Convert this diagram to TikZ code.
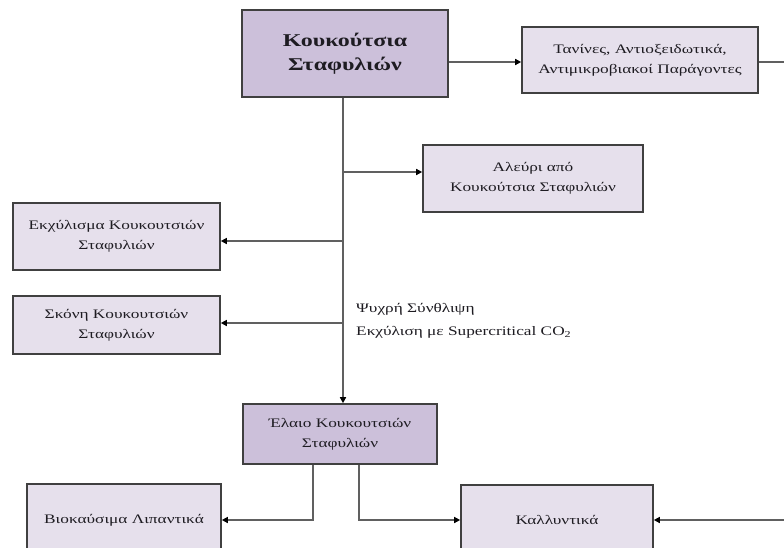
\documentclass[tikz,border=0pt]{standalone}
\usepackage{fontspec}
\setmainfont[FakeStretch=1.33]{Liberation Serif}
\usetikzlibrary{arrows.meta}
\definecolor{darkfill}{RGB}{204,192,218}
\definecolor{lightfill}{RGB}{230,224,236}
\definecolor{edgecol}{RGB}{64,64,64}
\definecolor{linecol}{RGB}{96,96,96}
\definecolor{inkcol}{RGB}{30,28,34}
\tikzset{
  box/.style={draw=edgecol, line width=1.6pt, fill=lightfill, align=center,
    inner sep=2pt, font=\fontsize{13}{20}\selectfont, text=inkcol},
  mainbox/.style={box, fill=darkfill},
  conn/.style={draw=linecol, line width=1.4pt,
    -{Triangle[length=6pt,width=6pt,color=black]}},
}
\begin{document}
\begin{tikzpicture}[x=1pt,y=-1pt]
\clip (0,0) rectangle (784,547);
\fill[white] (0,0) rectangle (784,547);

% boxes
\node[mainbox, minimum width=206pt, minimum height=87pt,
  font=\bfseries\fontsize{18}{24}\selectfont] (seeds) at (345,53.5)
  {Κουκούτσια\\Σταφυλιών};
\node[box, minimum width=236pt, minimum height=66pt] (tann) at (640,60)
  {Τανίνες, Αντιοξειδωτικά,\\Αντιμικροβιακοί Παράγοντες};
\node[box, minimum width=220pt, minimum height=67pt] (flour) at (533,178.5)
  {Αλεύρι από\\Κουκούτσια Σταφυλιών};
\node[box, minimum width=207pt, minimum height=67pt] (extr) at (116.5,236.5)
  {Εκχύλισμα Κουκουτσιών\\Σταφυλιών};
\node[box, minimum width=207pt, minimum height=58pt] (powd) at (116.5,325)
  {Σκόνη Κουκουτσιών\\Σταφυλιών};
\node[mainbox, minimum width=194pt, minimum height=60pt] (oil) at (340,434)
  {Έλαιο Κουκουτσιών\\Σταφυλιών};
\node[box, minimum width=194pt, minimum height=72pt] (bio) at (124,520)
  {Βιοκαύσιμα Λιπαντικά};
\node[box, minimum width=192pt, minimum height=70pt] (cosm) at (557,520)
  {Καλλυντικά};

% process label
\node[anchor=north west, align=left, inner sep=0pt,
  font=\fontsize{13}{23}\selectfont, text=inkcol] (proc) at (356,303)
  {Ψυχρή Σύνθλιψη\\Εκχύλιση με Supercritical CO\textsubscript{2}};

% trunk and branches
\coordinate (tx) at (343,0);
\draw[conn] (seeds.south -| tx) -- (oil.north -| tx);
\coordinate (bA) at (343,172);
\coordinate (bB) at (343,241);
\coordinate (bC) at (343,323);
\draw[conn] (seeds.east |- 0,62) -- (tann.west |- 0,62);
\draw[conn] (bA) -- (flour.west |- bA);
\draw[conn] (bB) -- (extr.east |- bB);
\draw[conn] (bC) -- (powd.east |- bC);

% oil outputs
\coordinate (oL) at (313,0);
\coordinate (oR) at (359,0);
\draw[conn] (oil.south -| oL) |- (bio.east);
\draw[conn] (oil.south -| oR) |- (cosm.west);

% tannins feed round the right edge into cosmetics
\coordinate (rx) at (792,0);
\draw[conn] (tann.east |- 0,62) -- (rx |- 0,62) |- (cosm.east);
\end{tikzpicture}
\end{document}
